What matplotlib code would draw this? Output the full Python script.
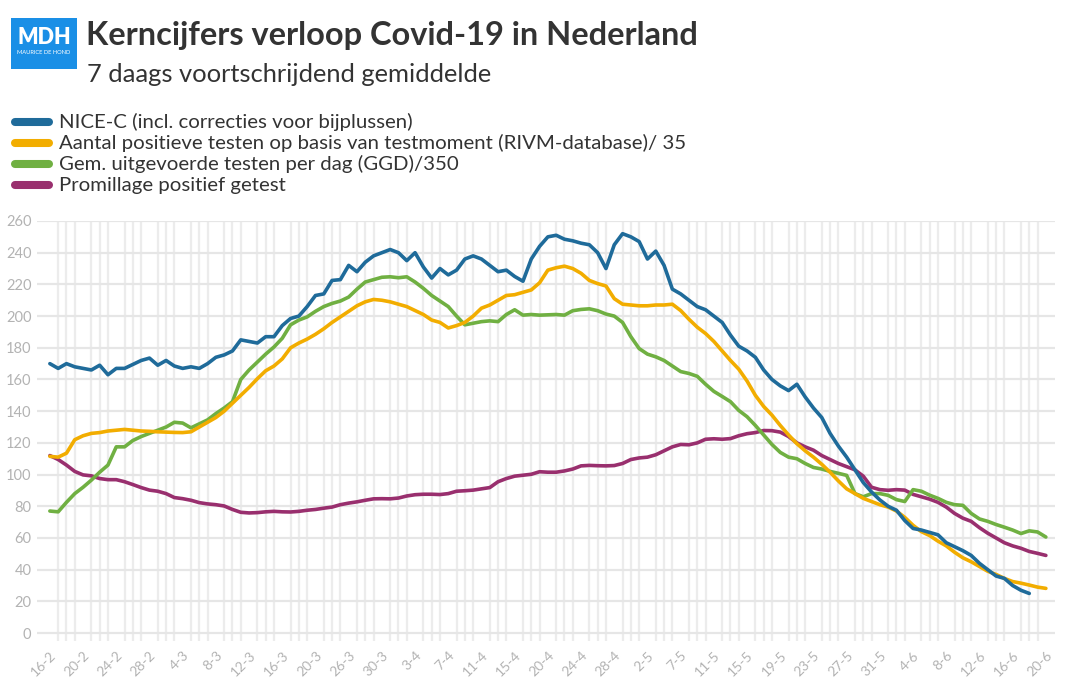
import matplotlib
matplotlib.use("Agg")
import matplotlib.pyplot as plt
from matplotlib.patches import Rectangle
from matplotlib.lines import Line2D

tick_labels = ["16-2", "20-2", "24-2", "28-2", "4-3", "8-3", "12-3", "16-3", "20-3",
               "26-3", "30-3", "3-4", "7-4", "11-4", "15-4", "20-4", "24-4", "28-4",
               "2-5", "7-5", "11-5", "15-5", "19-5", "23-5", "27-5", "31-5", "4-6",
               "8-6", "12-6", "16-6", "20-6"]

nice_c = [170, 167, 170, 168, 167, 166, 169, 163, 167, 167, 169.5, 172, 173.5, 169, 172,
          168.5, 167, 168, 167, 170, 174, 175.5, 178, 185, 184, 183, 187, 187, 194, 198.5,
          200, 206, 213, 214, 222.5, 223, 232, 228, 234, 238, 240, 242, 240, 235, 240,
          231, 224, 230, 226, 229, 236, 238, 236, 232, 228, 229, 225, 222, 236, 244,
          250, 251, 248.5, 247.5, 246, 245, 240, 230, 245, 252, 250, 247, 236, 241, 232,
          217, 214, 210, 206, 204, 200, 196, 188, 181, 178, 174, 166, 160, 156, 153,
          157, 149, 142, 136, 126, 118, 111, 103, 95, 89, 84, 80, 77.5, 71, 66,
          65, 63.5, 62, 57, 54.5, 52, 49, 44, 40, 36, 34.5, 30, 27, 25]

positief = [111.5, 111, 113.5, 122, 124.5, 126, 126.5, 127.5, 128, 128.5, 128, 127.5,
            127.3, 127, 126.8, 126.6, 126.5, 127, 130, 133, 136, 140, 145, 150, 155,
            160.5, 165.5, 168.5, 173, 180, 183, 185.5, 188.5, 192, 196, 199.5, 203,
            206.5, 209, 210.5, 210, 209, 207.5, 206, 203.5, 201, 197.5, 196, 192.5, 194,
            196, 200, 205, 207, 210, 213, 213.5, 215, 216.5, 221, 229, 230.5, 231.5,
            230, 227, 222.5, 220.5, 219, 211, 207.5, 207, 206.5, 206.5, 207, 207, 207.5,
            203.5, 198, 193, 189, 184, 178, 172, 166.5, 159, 150, 143, 137.5, 131, 125,
            119.5, 115, 111, 106.5, 101.5, 96, 91, 88, 85, 83, 81, 79.5, 77, 73, 68, 64,
            61.5, 58, 55, 51, 47.5, 45, 42, 39, 37, 34.5, 32.5, 31.5, 30.3, 29, 28.2]

testen = [77, 76.5, 82.5, 88, 92, 96.5, 101.5, 106, 117.5, 117.5, 121.5, 124, 126, 128,
          130, 133, 132.5, 129.5, 132, 134.5, 138.5, 142, 146, 160, 166, 171, 176, 180.5,
          186, 194.5, 197.5, 199.5, 203, 206, 208, 209.5, 212, 217, 221.5, 223, 224.5,
          224.8, 224.2, 224.8, 221.5, 217.5, 213, 209.5, 206, 200, 194.5, 195.5, 196.5,
          197, 196.5, 201, 204, 200.6, 201, 200.6, 200.8, 201, 200.6, 203.4, 204.2,
          204.6, 203.4, 201.3, 200, 196, 187, 179.5, 176, 174.3, 172, 168.5, 165, 163.8,
          162, 157, 152.5, 149.3, 146, 140.5, 136.5, 131, 125, 119, 114, 111, 110, 107,
          104.5, 103.5, 102, 100.8, 99.5, 88, 86, 88, 88, 86.9, 84.2, 83, 90.5, 89.5,
          87, 85, 82.5, 81, 80.6, 75.5, 72, 70.5, 68.5, 66.8, 65, 62.8, 64.5, 63.8, 60.6]

promillage = [112, 109.5, 106, 102, 99.8, 99.2, 97.5, 96.8, 96.8, 95.5, 93.7, 91.8, 90.2,
              89.5, 88, 85.5, 84.8, 83.8, 82.3, 81.5, 81, 80.2, 78, 76.2, 75.8, 76, 76.5,
              76.8, 76.5, 76.4, 76.8, 77.5, 78, 78.8, 79.5, 81, 82, 82.8, 83.8, 84.7, 84.8,
              84.7, 85.2, 86.5, 87.3, 87.6, 87.6, 87.4, 88, 89.5, 89.8, 90.2, 91, 91.8,
              95.5, 97.5, 99, 99.6, 100.2, 101.8, 101.5, 101.5, 102.3, 103.5, 105.5, 105.8,
              105.6, 105.5, 105.7, 107, 109.5, 110.5, 111, 112.5, 115, 117.5, 119, 118.8,
              120, 122.3, 122.6, 122.3, 122.7, 124.5, 125.8, 126.5, 127.8, 127.7, 126.8,
              124, 120, 117.5, 115.4, 112, 109.5, 107, 105, 103, 99, 92, 90.5, 90.1, 90.5,
              90.2, 87.5, 86, 84.5, 82.5, 79.5, 75.5, 72.5, 70.5, 66.5, 63, 60, 57, 55,
              53.5, 51.5, 50.3, 49]

series_names = ["NICE-C (incl. correcties voor bijplussen)",
                "Aantal positieve testen op basis van testmoment (RIVM-database)/ 35",
                "Gem. uitgevoerde testen per dag (GGD)/350",
                "Promillage positief getest"]
colors = ["#1f6b9a", "#f2ad00", "#70b042", "#992f6e"]

plt.rcParams['font.family'] = ['Lato', 'DejaVu Sans']

W, H = 1068, 689
fig = plt.figure(figsize=(W / 100, H / 100), dpi=100)
ax = fig.add_axes([37 / W, 1 - 641 / H, (1055 - 37) / W, (641 - 221) / H])

n = len(positief)
xs = list(range(n))
ax.set_xticks(xs, minor=True)
ax.grid(True, which='minor', axis='x', color='#ececec', lw=1.6, zorder=0)
ax.set_yticks(range(0, 261, 20))
ax.grid(True, which='major', axis='y', color='#e6e6e6', lw=1.6, zorder=0)

all_series = [promillage, testen, positief, nice_c]
all_colors = [colors[3], colors[2], colors[1], colors[0]]
for s, c in zip(all_series, all_colors):
    ax.plot(range(len(s)), s, color=c, lw=2.6, solid_joinstyle='round',
            solid_capstyle='round', zorder=3)

ax.set_xlim(-1.55, 121.1)
ax.set_ylim(-5, 260)
ax.set_xticks(range(0, n, 4))
ax.set_xticklabels(tick_labels, rotation=45, ha='right', rotation_mode='anchor',
                   color='#b3b3b3', fontsize=10)
ax.tick_params(axis='x', which='both', length=0, pad=6)
ax.tick_params(axis='y', length=0, pad=4, labelcolor='#b3b3b3', labelsize=10.5)
for sp in ax.spines.values():
    sp.set_visible(False)

# logo
fig.patches.append(Rectangle((11 / W, 1 - 69 / H), 66 / W, 51 / H,
                             transform=fig.transFigure, facecolor='#1a8fe6',
                             edgecolor='none'))
t_mdh = fig.text(44 / W, 1 - 38 / H, "MDH", color='white', fontsize=15,
                 fontweight='heavy', ha='center', va='center')
t_mdh2 = fig.text(44 / W, 1 - 53 / H, "MAURICE DE HOND", color='white', fontsize=3,
                  ha='center', va='center')

t_title = fig.text(86 / W, 1 - 36 / H, "Kerncijfers verloop Covid-19 in Nederland",
                   fontsize=24, fontweight='bold', color='#333333', va='center', ha='left')
t_sub = fig.text(87 / W, 1 - 74 / H, "7 daags voortschrijdend gemiddelde",
                 fontsize=16, color='#333333', va='center', ha='left')

leg_y = [122, 143, 164, 185]
leg_texts = []
for name, c, y in zip(series_names, colors, leg_y):
    fig.lines.append(Line2D([15 / W, 49 / W], [1 - y / H, 1 - y / H],
                            transform=fig.transFigure, color=c, lw=5.8,
                            solid_capstyle='round'))
    leg_texts.append(fig.text(59 / W, 1 - y / H, name, fontsize=13, color='#333333',
                              va='center', ha='left'))

# fit text widths to the reference layout
renderer = fig.canvas.get_renderer()
def fit(t, target):
    w = t.get_window_extent(renderer).width
    t.set_fontsize(t.get_fontsize() * target / w)

fit(t_title, 613)
fit(t_sub, 406)
fit(t_mdh, 54)
fit(t_mdh2, 54)
fs = leg_texts[1].get_fontsize() * 625 / leg_texts[1].get_window_extent(renderer).width
for t in leg_texts:
    t.set_fontsize(fs)

fig.savefig("out.png", dpi=100, facecolor='white')
